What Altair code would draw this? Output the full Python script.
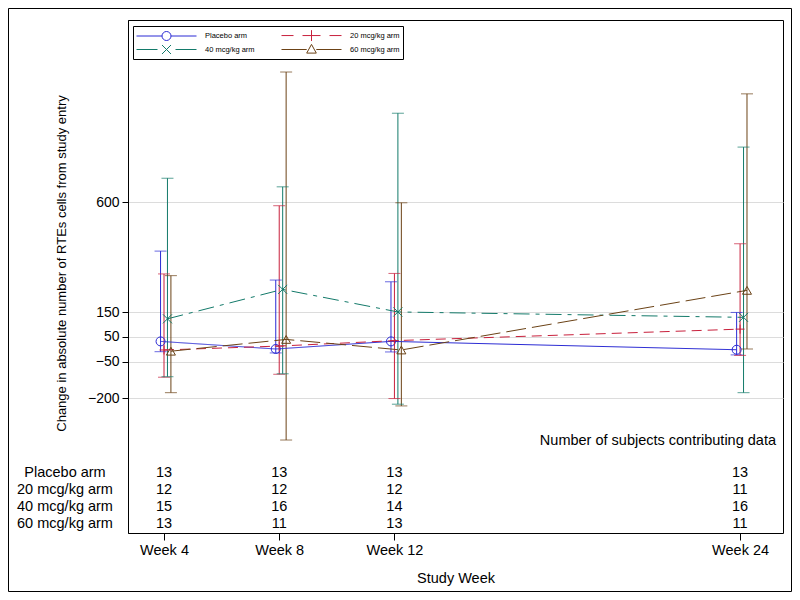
import altair as alt
import pandas as pd

FONT = "Liberation Sans"

# ---------------- data ----------------
arms = ["Placebo arm", "20 mcg/kg arm", "40 mcg/kg arm", "60 mcg/kg arm"]
weeks = [4, 8, 12, 24]
y_tick_values = [600, 150, 50, -50, -200]

mean_placebo = [32, 1, 32, -2]
mean_20 = [-3, 13, 35, 82]
mean_40 = [124, 244, 152, 130]
mean_60 = [-8, 40, -3, 240]

upper_placebo = [400, 282, 275, 150]
lower_placebo = [-10, -15, -11, -23]
upper_20 = [307, 585, 309, 430]
lower_20 = [-114, -102, -201, -25]
upper_40 = [697, 662, 962, 824]
lower_40 = [-112, -100, -224, -177]
upper_60 = [300, 1130, 597, 1041]
lower_60 = [-177, -370, -231, 1]

n_placebo = [13, 13, 13, 13]
n_20 = [12, 12, 12, 11]
n_40 = [15, 16, 14, 16]
n_60 = [13, 11, 13, 11]

table_note = "Number of subjects contributing data"

# ---------------- styles ----------------
colors = ["#2a2ad4", "#c8203c", "#137a6a", "#6b4216"]
dashes = [[1, 0], [10, 6], [16, 6, 4, 6], [20, 6]]
shapes = ["circle", "M0,-1L0,1M-1,0L1,0", "M-1,-1L1,1M-1,1L1,-1", "triangle-up"]
# legend glyphs: unit = sqrt(symbolSize)/2 = 6px; line spans -1..9 units, marker at 4
legend_paths = [
    "M-1,0L3.25,0M4.75,0L9,0M4.75,0A0.75,0.75 0 1,1 3.25,0A0.75,0.75 0 1,1 4.75,0",
    "M-1,0L1,0M2.5,0L5.5,0M7,0L9,0M4,-0.9L4,0.9",
    "M-1,0L2.5,0M5.5,0L9,0M3.25,-0.75L4.75,0.75M3.25,0.75L4.75,-0.75",
    "M-1,0L3.2,0M4.8,0L9,0M4,-0.85L4.8,0.6L3.2,0.6Z",
]
offsets = {arms[0]: -0.12, arms[1]: 0.0, arms[2]: 0.12, arms[3]: 0.24}

means = [mean_placebo, mean_20, mean_40, mean_60]
uppers = [upper_placebo, upper_20, upper_40, upper_60]
lowers = [lower_placebo, lower_20, lower_40, lower_60]
ns = [n_placebo, n_20, n_40, n_60]

rows = []
for arm, m, lo, hi in zip(arms, means, lowers, uppers):
    for w, mv, l, h in zip(weeks, m, lo, hi):
        rows.append({"arm": arm, "week": w, "mean": mv, "lower": l, "upper": h})
df = pd.DataFrame(rows)
df["xpos"] = df["week"] + df["arm"].map(offsets)
df["arm_l"] = df["arm"]

trows = []
for arm, nn in zip(arms, ns):
    for w, n in zip(weeks, nn):
        trows.append({"arm": arm, "xpos": w, "n": n})
tdf = pd.DataFrame(trows)
label_df = pd.DataFrame({"arm": arms})
note_df = pd.DataFrame({"t": [table_note]})
frame_df = pd.DataFrame({"k": [0]})

W, H = 655, 513
x_scale = alt.Scale(domain=[2.75, 25.49], nice=False, zero=False)
y_scale = alt.Scale(domain=[-749, 1342], nice=False, zero=False)
color_scale = alt.Scale(domain=arms, range=colors)
row_scale = alt.Scale(domain=arms, range=[452.5, 504], padding=0)

x_axis = alt.Axis(values=weeks, labelExpr="'Week ' + datum.value", title="Study Week",
                  grid=False, domain=False, tickSize=7, tickColor="black",
                  labelFontSize=14.5, titleFontSize=14.5, labelPadding=3, titlePadding=15,
                  labelFont=FONT, titleFont=FONT, titleFontWeight="normal",
                  labelColor="black", titleColor="black", labelFlush=False)
y_axis = alt.Axis(values=y_tick_values, title="Change in absolute number of RTEs cells from study entry",
                  grid=True, gridColor="#dcdcdc", gridWidth=1, domainColor="black",
                  tickColor="black", tickSize=6, labelFontSize=14, titleFontSize=13,
                  labelPadding=3, labelFont=FONT, titleFont=FONT, titleFontWeight="normal",
                  labelColor="black", titleColor="black", titleX=-60, titleY=243)

X = alt.X("xpos:Q", scale=x_scale, axis=x_axis, title="Study Week")
C = alt.Color("arm:N", scale=color_scale, legend=None)

base = alt.Chart(df)

bars = base.mark_rule(strokeWidth=1).encode(
    x=X, y=alt.Y("lower:Q", scale=y_scale, axis=y_axis), y2="upper:Q", color=C)
cap_hi = base.mark_tick(orient="horizontal", size=12, thickness=1).encode(
    x=X, y=alt.Y("upper:Q", scale=y_scale, axis=None), color=C)
cap_lo = base.mark_tick(orient="horizontal", size=12, thickness=1).encode(
    x=X, y=alt.Y("lower:Q", scale=y_scale, axis=None), color=C)
lines = base.mark_line(strokeWidth=1).encode(
    x=X, y=alt.Y("mean:Q", scale=y_scale, axis=None), color=C,
    strokeDash=alt.StrokeDash("arm:N", scale=alt.Scale(domain=arms, range=dashes), legend=None))
points = base.mark_point(filled=False, size=81, strokeWidth=1, opacity=1).encode(
    x=X, y=alt.Y("mean:Q", scale=y_scale, axis=None), color=C,
    shape=alt.Shape("arm:N", scale=alt.Scale(domain=arms, range=shapes), legend=None))

leg = alt.Legend(title=None, orient="none", legendX=5, legendY=6, columns=2,
                 direction="horizontal",
                 symbolSize=144, symbolStrokeWidth=1, symbolOpacity=1,
                 labelFontSize=7.5, labelFont=FONT, labelColor="black",
                 strokeColor="black", fillColor="white", padding=3,
                 rowPadding=-3, columnPadding=24, labelOffset=56)
legend_layer = base.mark_point(filled=False, opacity=0).encode(
    x=X, y=alt.Y("mean:Q", scale=y_scale, axis=None),
    color=alt.Color("arm_l:N", scale=alt.Scale(domain=arms, range=colors), legend=leg),
    shape=alt.Shape("arm_l:N", scale=alt.Scale(domain=arms, range=legend_paths), legend=leg))

table = alt.Chart(tdf).mark_text(fontSize=14.5, font=FONT, baseline="middle", color="black").encode(
    x=X, y=alt.Y("arm:N", scale=row_scale, axis=None), text="n:Q")
row_labels = alt.Chart(label_df).mark_text(fontSize=14.5, font=FONT, baseline="middle",
                                           align="center", color="black").encode(
    x=alt.value(-63), y=alt.Y("arm:N", scale=row_scale, axis=None), text="arm:N")
note = alt.Chart(note_df).mark_text(fontSize=14.5, font=FONT, baseline="middle",
                                    align="right", color="black").encode(
    x=alt.value(648), y=alt.value(421), text="t:N")
frame = alt.Chart(frame_df).mark_rect(fillOpacity=0, stroke="black", strokeWidth=1).encode(
    x=alt.value(-119.5), x2=alt.value(663.5), y=alt.value(-11.5), y2=alt.value(571.5))

chart = alt.layer(
    bars, cap_hi, cap_lo, lines, points, legend_layer, table, row_labels, note, frame
).resolve_scale(
    y="independent", color="independent", shape="independent", strokeDash="independent"
).properties(
    width=W, height=H,
    padding={"left": 120, "top": 12, "right": 9, "bottom": 59},
    autosize=alt.AutoSizeParams(type="none"),
    background="white",
).configure_view(stroke="black", strokeWidth=1)

chart.save("out.html", embed_options={"renderer": "svg", "actions": False})
